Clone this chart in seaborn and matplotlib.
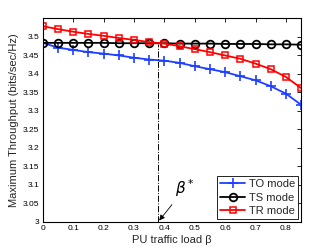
import numpy as np
import pandas as pd
import matplotlib
matplotlib.use("Agg")
import matplotlib.pyplot as plt
import seaborn as sns
from matplotlib.ticker import FixedLocator, FixedFormatter

beta = [0.0, 0.05, 0.10, 0.15, 0.20, 0.25, 0.30, 0.35, 0.40, 0.45,
        0.50, 0.55, 0.60, 0.65, 0.70, 0.75, 0.80, 0.85]
to_mode = [3.483, 3.470, 3.464, 3.458, 3.454, 3.449, 3.443, 3.438, 3.435, 3.429,
           3.420, 3.412, 3.404, 3.393, 3.382, 3.366, 3.346, 3.316]
ts_mode = [3.483, 3.483, 3.483, 3.483, 3.483, 3.482, 3.482, 3.482, 3.482, 3.481,
           3.481, 3.481, 3.480, 3.480, 3.480, 3.479, 3.479, 3.478]
tr_mode = [3.528, 3.520, 3.513, 3.507, 3.502, 3.496, 3.491, 3.485, 3.481, 3.474,
           3.466, 3.458, 3.449, 3.440, 3.427, 3.412, 3.391, 3.361]
series_names = ["TO mode", "TS mode", "TR mode"]
beta_star = 0.38
beta_star_y = 3.481

xticks = [0, 0.1, 0.2, 0.3, 0.4, 0.5, 0.6, 0.7, 0.8]
xticklabels = ["0", "0.1", "0.2", "0.3", "0.4", "0.5", "0.6", "0.7", "0.8"]
yticks = [3, 3.05, 3.1, 3.15, 3.2, 3.25, 3.3, 3.35, 3.4, 3.45, 3.5]
yticklabels = ["3", "3.05", "3.1", "3.15", "3.2", "3.25", "3.3", "3.35", "3.4", "3.45", "3.5"]

sns.set_style("white")
plt.rcParams['font.family'] = ['Liberation Sans', 'DejaVu Sans']

df = pd.DataFrame({
    "beta": beta * 3,
    "value": to_mode + ts_mode + tr_mode,
    "mode": [series_names[0]] * len(beta) + [series_names[1]] * len(beta) + [series_names[2]] * len(beta),
})

fig = plt.figure(figsize=(3.32, 2.5), dpi=100)
ax = fig.add_axes([0.129, 0.112, 0.778, 0.816])

styles = {
    "TO mode": dict(color="#1f3fff", marker="+", ms=6.5, mew=1.2, mfc="none"),
    "TS mode": dict(color="black", marker="o", ms=5.5, mew=1.3, mfc="none"),
    "TR mode": dict(color="#ff0000", marker="s", ms=5, mew=1.1, mfc="none"),
}
for name in series_names:
    sub = df[df["mode"] == name]
    st = styles[name]
    sns.lineplot(data=sub, x="beta", y="value", ax=ax, color=st["color"], lw=1.3,
                 marker=st["marker"], markersize=st["ms"], markeredgewidth=st["mew"],
                 markerfacecolor=st["mfc"], markeredgecolor=st["color"], label=name)

ax.plot([beta_star, beta_star], [3.0, beta_star_y], color="black", lw=0.7, ls="-.")
ax.annotate(r"$\beta^*$", xy=(beta_star + 0.003, 3.004), xytext=(0.435, 3.075),
            fontsize=11, color="black",
            arrowprops=dict(arrowstyle="-|>", color="black", lw=0.6, mutation_scale=8,
                            shrinkA=2, shrinkB=0))

ax.set_xlim(0, 0.85)
ax.set_ylim(3, 3.55)
ax.xaxis.set_major_locator(FixedLocator(xticks))
ax.xaxis.set_major_formatter(FixedFormatter(xticklabels))
ax.yaxis.set_major_locator(FixedLocator(yticks))
ax.yaxis.set_major_formatter(FixedFormatter(yticklabels))
ax.tick_params(direction="in", top=True, right=True, length=3, width=0.6,
               labelsize=6, pad=2.5, colors="black")
for s in ax.spines.values():
    s.set_color("black")
    s.set_linewidth(0.8)
ax.set_xlabel("PU traffic load β", fontsize=8, labelpad=1.5)
ax.set_ylabel("Maximum Throughput (bits/sec/Hz)", fontsize=8, labelpad=3)

leg = ax.legend(loc="lower right", fontsize=8, frameon=True, fancybox=False,
                edgecolor="black", framealpha=1, borderpad=0.25, labelspacing=0.3,
                handlelength=2.3, handletextpad=0.3, borderaxespad=0.3)
leg.get_frame().set_linewidth(0.6)

fig.savefig("out.png", dpi=100)
